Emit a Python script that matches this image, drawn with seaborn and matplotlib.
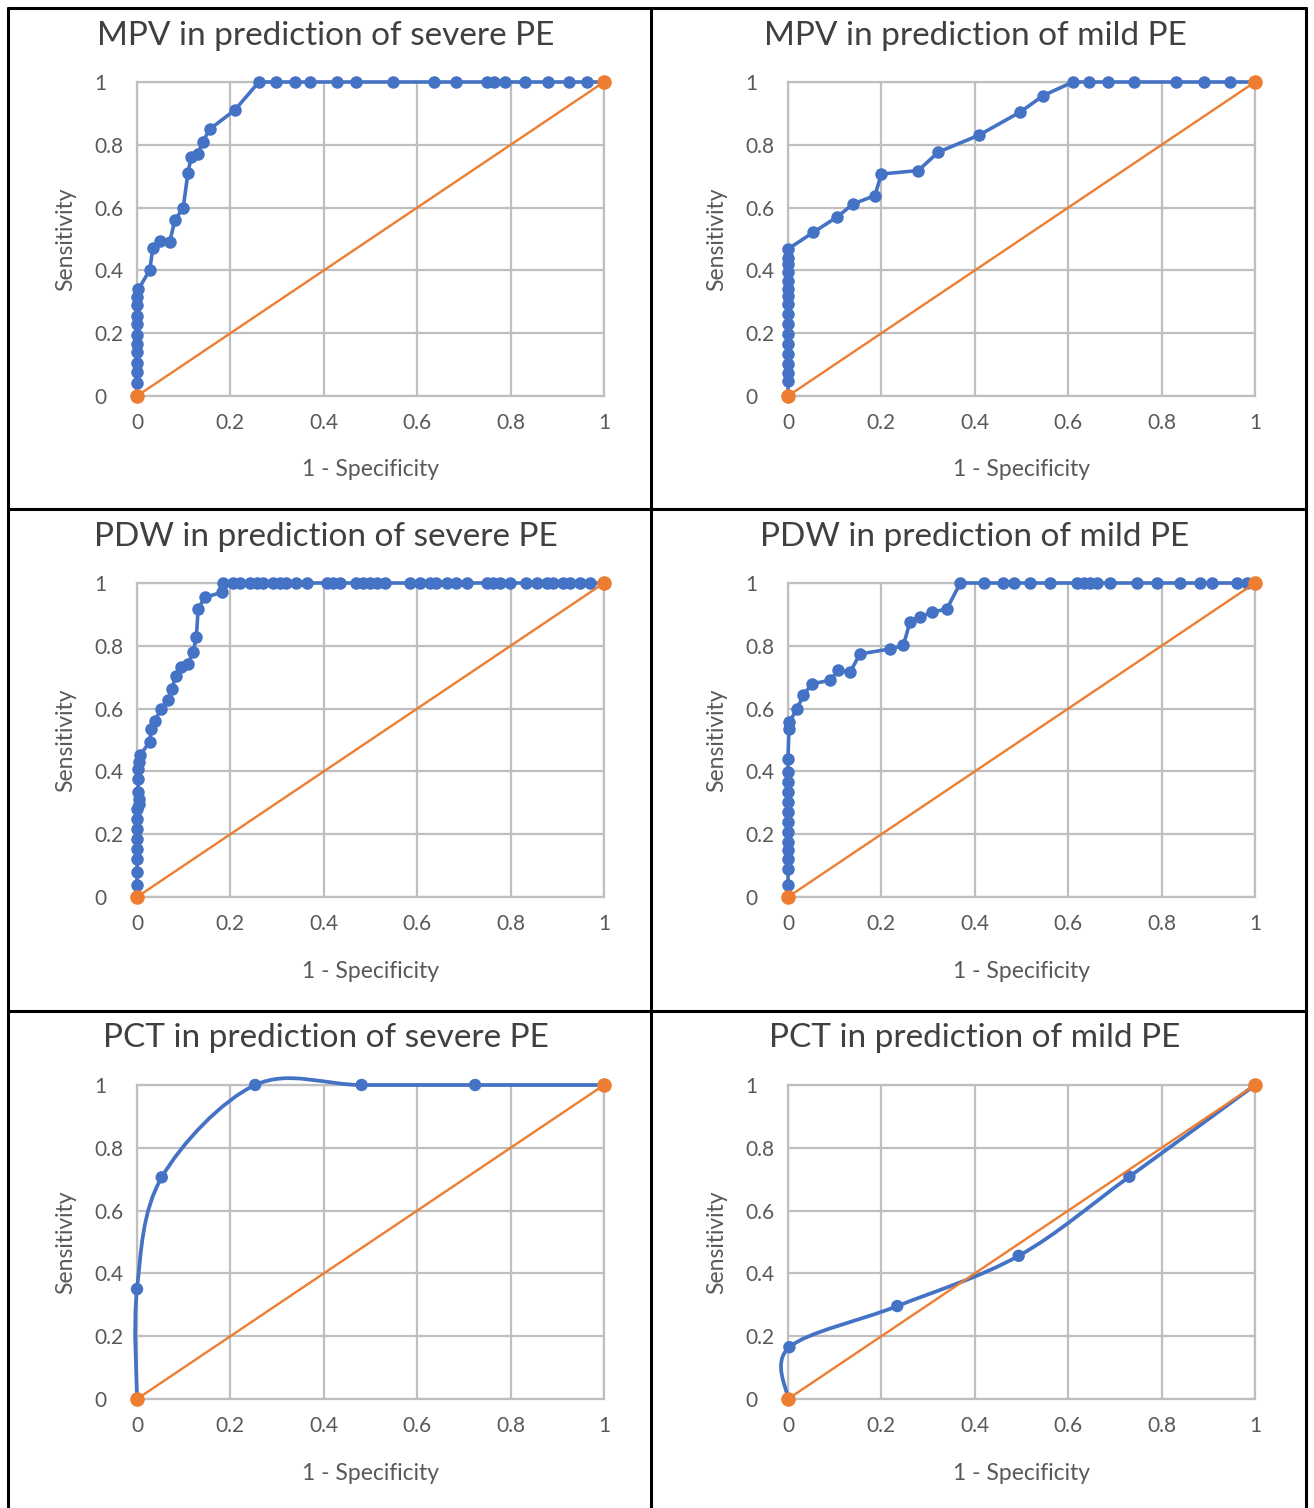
import numpy as np
import pandas as pd
import matplotlib
matplotlib.use("Agg")
import matplotlib.pyplot as plt
import seaborn as sns
from matplotlib.path import Path
from matplotlib.patches import PathPatch
from matplotlib.lines import Line2D

# ---------------- data ----------------
titles = ["MPV in prediction of severe PE", "MPV in prediction of mild PE",
          "PDW in prediction of severe PE", "PDW in prediction of mild PE",
          "PCT in prediction of severe PE", "PCT in prediction of mild PE"]
x_label = "1 - Specificity"
y_label = "Sensitivity"
tick_values = [0, 0.2, 0.4, 0.6, 0.8, 1]
tick_labels = ["0", "0.2", "0.4", "0.6", "0.8", "1"]

mpv_severe_x = [0, 0, 0, 0, 0, 0, 0, 0, 0, 0, 0, 0.003, 0.027, 0.034, 0.049, 0.07, 0.081,
                0.099, 0.109, 0.116, 0.13, 0.141, 0.156, 0.209, 0.261, 0.298, 0.338, 0.37,
                0.428, 0.469, 0.548, 0.635, 0.683, 0.749, 0.764, 0.789, 0.83, 0.88, 0.924,
                0.964, 1.0]
mpv_severe_y = [0, 0.04, 0.075, 0.105, 0.14, 0.165, 0.195, 0.23, 0.255, 0.29, 0.315, 0.34,
                0.40, 0.47, 0.495, 0.49, 0.56, 0.60, 0.71, 0.76, 0.77, 0.81, 0.85, 0.91,
                1, 1, 1, 1, 1, 1, 1, 1, 1, 1, 1, 1, 1, 1, 1, 1, 1]

mpv_mild_x = [0, 0, 0, 0, 0, 0, 0, 0, 0, 0, 0, 0, 0, 0, 0, 0, 0, 0.054, 0.104, 0.14,
              0.186, 0.2, 0.279, 0.322, 0.408, 0.497, 0.547, 0.61, 0.645, 0.686, 0.741,
              0.83, 0.891, 0.946, 1.0]
mpv_mild_y = [0, 0.048, 0.074, 0.101, 0.133, 0.165, 0.197, 0.229, 0.261, 0.293, 0.319,
              0.34, 0.367, 0.394, 0.42, 0.441, 0.468, 0.521, 0.569, 0.612, 0.638, 0.707,
              0.718, 0.777, 0.83, 0.904, 0.957, 1, 1, 1, 1, 1, 1, 1, 1]

pdw_severe_x = [0, 0, 0, 0, 0, 0, 0, 0, 0, 0.005, 0.004, 0.002, 0.003, 0.002, 0.004, 0.006,
                0.027, 0.031, 0.038, 0.052, 0.066, 0.074, 0.084, 0.095, 0.109, 0.12, 0.127,
                0.131, 0.145, 0.181, 0.184, 0.206, 0.22, 0.241, 0.256, 0.27, 0.291, 0.306,
                0.32, 0.341, 0.363, 0.406, 0.42, 0.434, 0.47, 0.484, 0.499, 0.513, 0.531,
                0.584, 0.606, 0.627, 0.641, 0.663, 0.684, 0.706, 0.749, 0.763, 0.777, 0.799,
                0.834, 0.856, 0.877, 0.891, 0.913, 0.927, 0.949, 0.97, 1.0]
pdw_severe_y = [0, 0.037, 0.08, 0.122, 0.154, 0.186, 0.217, 0.249, 0.281, 0.297, 0.313,
                0.334, 0.376, 0.408, 0.43, 0.451, 0.493, 0.536, 0.562, 0.599, 0.626, 0.663,
                0.705, 0.732, 0.742, 0.779, 0.827, 0.917, 0.954, 0.97, 1, 1, 1, 1, 1, 1, 1,
                1, 1, 1, 1, 1, 1, 1, 1, 1, 1, 1, 1, 1, 1, 1, 1, 1, 1, 1, 1, 1, 1, 1, 1, 1,
                1, 1, 1, 1, 1, 1, 1]

pdw_mild_x = [0, 0, 0, 0, 0, 0, 0, 0, 0, 0, 0, 0, 0, 0, 0.002, 0.003, 0.019, 0.033, 0.051,
              0.09, 0.108, 0.133, 0.154, 0.219, 0.247, 0.261, 0.283, 0.308, 0.34, 0.369,
              0.419, 0.461, 0.483, 0.519, 0.561, 0.619, 0.633, 0.647, 0.661, 0.69, 0.747,
              0.79, 0.84, 0.883, 0.908, 0.961, 0.983, 1.0]
pdw_mild_y = [0, 0.037, 0.09, 0.122, 0.149, 0.175, 0.207, 0.239, 0.271, 0.302, 0.334,
              0.366, 0.398, 0.44, 0.536, 0.557, 0.599, 0.642, 0.679, 0.69, 0.722, 0.716,
              0.774, 0.79, 0.801, 0.875, 0.891, 0.907, 0.917, 1, 1, 1, 1, 1, 1, 1, 1, 1,
              1, 1, 1, 1, 1, 1, 1, 1, 1, 1]

pct_severe_x = [0, 0, 0.053, 0.253, 0.481, 0.724, 1.0]
pct_severe_y = [0, 0.35, 0.706, 1.0, 1.0, 1.0, 1.0]

pct_mild_x = [0, 0.003, 0.234, 0.494, 0.731, 1.0]
pct_mild_y = [0, 0.165, 0.296, 0.456, 0.708, 1.0]

ref_x = [0, 1]
ref_y = [0, 1]

series = [(mpv_severe_x, mpv_severe_y, False), (mpv_mild_x, mpv_mild_y, False),
          (pdw_severe_x, pdw_severe_y, False), (pdw_mild_x, pdw_mild_y, False),
          (pct_severe_x, pct_severe_y, True), (pct_mild_x, pct_mild_y, True)]

# ---------------- style ----------------
BLUE = "#4472C4"
ORANGE = "#ED7D31"
GRID = "#BFBFBF"
TXT = "#595959"

sns.set_theme(style="white")
plt.rcParams["font.family"] = ["Lato", "DejaVu Sans"]

W, H, DPI = 1314, 1508, 100
fig = plt.figure(figsize=(W / DPI, H / DPI), dpi=DPI)

col_axis_left = [137, 788]
col_cell = [(8, 651), (651, 1307)]
row_top = [82, 583, 1085]
row_title = [36, 537, 1038]
ax_w, ax_h = 467, 314


def smooth_path(xs, ys):
    pts = np.column_stack([xs, ys]).astype(float)
    n = len(pts)
    verts = [pts[0]]
    codes = [Path.MOVETO]
    for i in range(n - 1):
        p0 = pts[i - 1] if i > 0 else pts[i]
        p1 = pts[i]
        p2 = pts[i + 1]
        p3 = pts[i + 2] if i + 2 < n else pts[i + 1]
        c1 = p1 + (p2 - p0) / 6.0
        c2 = p2 - (p3 - p1) / 6.0
        verts += [c1, c2, p2]
        codes += [Path.CURVE4] * 3
    return Path(verts, codes)


for k, (xs, ys, smooth) in enumerate(series):
    r, c = divmod(k, 2)
    left = col_axis_left[c] / W
    bottom = (H - (row_top[r] + ax_h)) / H
    ax = fig.add_axes([left, bottom, ax_w / W, ax_h / H])
    df = pd.DataFrame({"x": xs, "y": ys})
    if smooth:
        patch = PathPatch(smooth_path(xs, ys), facecolor="none", edgecolor=BLUE,
                          lw=2.7, transform=ax.transData, clip_on=False, zorder=3,
                          capstyle="round", joinstyle="round")
        ax.add_patch(patch)
        sns.scatterplot(data=df, x="x", y="y", ax=ax, color=BLUE, s=80,
                        edgecolor="none", linewidth=0, zorder=4, clip_on=False)
    else:
        sns.lineplot(data=df, x="x", y="y", ax=ax, sort=False, estimator=None,
                     color=BLUE, lw=2.6, marker="o", markersize=9, markeredgewidth=0,
                     zorder=3, clip_on=False)
    dref = pd.DataFrame({"x": ref_x, "y": ref_y})
    sns.lineplot(data=dref, x="x", y="y", ax=ax, sort=False, estimator=None,
                 color=ORANGE, lw=1.7, marker="o", markersize=10.5, markeredgewidth=0,
                 zorder=5, clip_on=False)

    ax.set_xlim(0, 1)
    ax.set_ylim(0, 1)
    ax.set_xticks(tick_values)
    ax.set_xticklabels(tick_labels)
    ax.set_yticks(tick_values)
    ax.set_yticklabels(tick_labels)
    ax.grid(True, color=GRID, lw=1.6)
    ax.set_axisbelow(True)
    for sp in ax.spines.values():
        sp.set_visible(True)
        sp.set_color(GRID)
        sp.set_linewidth(1.6)
    ax.tick_params(axis="both", length=0, labelsize=15, labelcolor=TXT)
    ax.tick_params(axis="y", pad=30.5)
    ax.tick_params(axis="x", pad=12)
    for lab in ax.get_yticklabels():
        lab.set_ha("left")
    ax.set_xlabel(x_label, fontsize=16.5, color=TXT, fontweight="normal")
    ax.set_ylabel(y_label, fontsize=16.5, color=TXT, fontweight="normal")
    ax.xaxis.set_label_coords(0.5, -74 / ax_h)
    ax.xaxis.label.set_va("center")
    ax.yaxis.set_label_coords(-71 / ax_w, 0.5)
    ax.yaxis.label.set_va("center")

    cx = (col_cell[c][0] + col_cell[c][1]) / 2 - 4
    fig.text(cx / W, 1 - row_title[r] / H, titles[k], ha="center", va="center",
             fontsize=24, color="#404040")

# table cell borders
for xv in [8, 651, 1306]:
    fig.add_artist(Line2D([xv / W, xv / W], [0, 1 - 8 / H], color="black", lw=2.2,
                          transform=fig.transFigure))
for yv in [8, 509, 1011]:
    fig.add_artist(Line2D([8 / W, 1306 / W], [1 - yv / H, 1 - yv / H], color="black",
                          lw=2.2, transform=fig.transFigure))

fig.savefig("out.png", dpi=DPI, facecolor="white")
